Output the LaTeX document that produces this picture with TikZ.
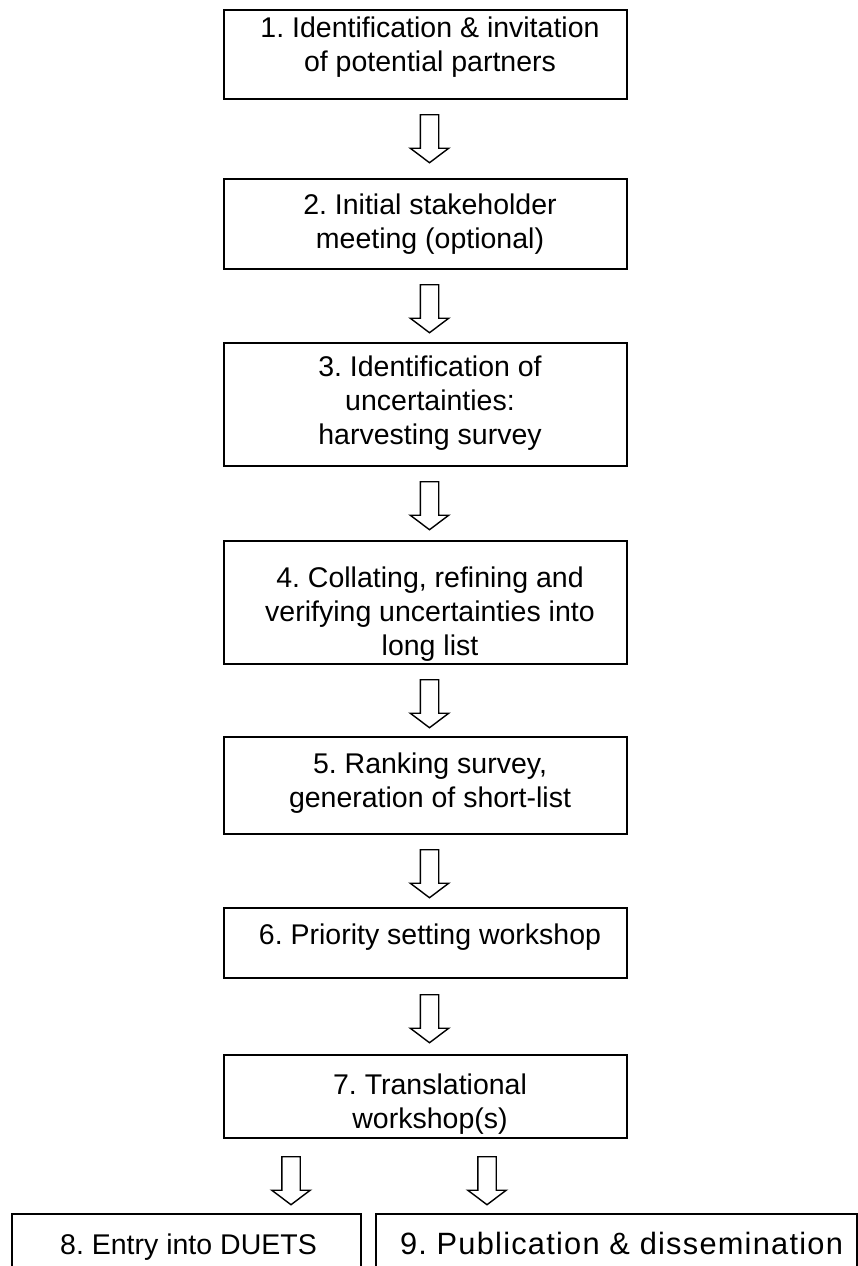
\documentclass[tikz,border=0pt]{standalone}
\usepackage{fontspec}
\setmainfont{Liberation Sans}
\frenchspacing
\usetikzlibrary{calc,shapes.arrows}

\begin{document}
\begin{tikzpicture}[x=0.5pt,y=-0.5pt,
        stepbox/.style={draw,line width=1pt,minimum width=201.5pt,inner sep=0pt},
        steptext/.style={font={\fontsize{14.25}{17}\selectfont},align=center,inner sep=0pt,anchor=north},
        downarrow/.style={draw,line width=0.7pt,single arrow,shape border rotate=270,
                          minimum height=24pt,single arrow head extend=5pt,
                          single arrow tip angle=106,inner xsep=4.25pt,inner ysep=4.25pt,anchor=tail}]
    \useasboundingbox (0,0) rectangle (858,1266);

    % steps down the middle
    \node[stepbox,minimum height=44.5pt] (s1) at (425.5,54.5) {};
    \node[stepbox,minimum height=45pt] (s2) at (425.5,224) {};
    \node[stepbox,minimum height=61.5pt] (s3) at (425.5,404.5) {};
    \node[stepbox,minimum height=61.5pt] (s4) at (425.5,602.5) {};
    \node[stepbox,minimum height=48.5pt] (s5) at (425.5,785.5) {};
    \node[stepbox,minimum height=35pt] (s6) at (425.5,943) {};
    \node[stepbox,minimum height=41.5pt] (s7) at (425.5,1096.5) {};
    % the two outcomes, cut off at the bottom
    \node[stepbox,minimum width=174.5pt,minimum height=53pt] (s8) at (186.5,1267) {};
    \node[stepbox,minimum width=240.5pt,minimum height=53pt] (s9) at (616.5,1267) {};

    \node[steptext] (t1) at ($ (s1.north) + (4.5,7.5) $) {1. Identification \& invitation\\of potential partners};
    \node[steptext] (t2) at ($ (s2.north) + (4.5,15.5) $) {2. Initial stakeholder\\meeting (optional)};
    \node[steptext] (t3) at ($ (s3.north) + (4.5,13.5) $) {3. Identification of\\uncertainties:\\harvesting survey};
    % last lines run into the box edge and get cut
    \begin{scope}
        \clip (s4.north west) rectangle ($ (s4.south east) + (0,-5) $);
        \node[steptext] (t4) at ($ (s4.north) + (4.5,26.5) $) {4. Collating, refining and\\verifying uncertainties into\\long list};
    \end{scope}
    \node[steptext] (t5) at ($ (s5.north) + (4.5,16.5) $) {5. Ranking survey,\\generation of short-list};
    \node[steptext] (t6) at ($ (s6.north) + (4.5,16.5) $) {6. Priority setting workshop};
    \begin{scope}
        \clip (s7.north west) rectangle ($ (s7.south east) + (0,-5) $);
        \node[steptext] (t7) at ($ (s7.north) + (4.5,19.5) $) {7. Translational\\workshop(s)};
    \end{scope}
    \node[steptext] (t8) at ($ (s8.north) + (2,20.5) $) {8. Entry into DUETS};
    \node[steptext,font={\fontsize{15.4}{18}\selectfont}] (t9) at ($ (s9.north) + (5,18.7) $) {\addfontfeature{LetterSpace=4}9. Publication \& dissemination};

    \node[downarrow] (a1) at ($ (s1.south) + (4,14) $) {};
    \node[downarrow] (a2) at ($ (s2.south) + (4,14) $) {};
    \node[downarrow] (a3) at ($ (s3.south) + (4,14) $) {};
    \node[downarrow] (a4) at ($ (s4.south) + (4,14) $) {};
    \node[downarrow] (a5) at ($ (s5.south) + (4,14) $) {};
    \node[downarrow] (a6) at ($ (s6.south) + (4,15) $) {};
    \node[downarrow] (a7) at ($ (s7.south) + (-134.5,17) $) {};
    \node[downarrow] (a8) at ($ (s7.south) + (61.5,17) $) {};
\end{tikzpicture}
\end{document}
